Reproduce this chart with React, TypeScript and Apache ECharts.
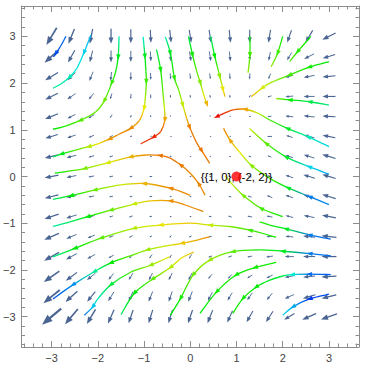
import React, { useEffect, useRef } from "react";
import * as echarts from "echarts";

const X_MAJOR = [-3, -2, -1, 0, 1, 2, 3];
const Y_MAJOR = [-3, -2, -1, 0, 1, 2, 3];
const MINOR = [-3.6, -3.4, -3.2, -2.8, -2.6, -2.4, -2.2, -1.8, -1.6, -1.4, -1.2, -0.8, -0.6, -0.4, -0.2, 0.2, 0.4, 0.6, 0.8, 1.2, 1.4, 1.6, 1.8, 2.2, 2.4, 2.6, 2.8, 3.2, 3.4, 3.6];

const GRID_X = [-3, -2.571, -2.143, -1.714, -1.286, -0.857, -0.429, 0, 0.429, 0.857, 1.286, 1.714, 2.143, 2.571, 3];
const GRID_Y = [3, 2.571, 2.143, 1.714, 1.286, 0.857, 0.429, 0, -0.429, -0.857, -1.286, -1.714, -2.143, -2.571, -3];

// arrow direction (degrees) per grid row (top to bottom)
const ARROW_ANGLE = [
  [-121, -112, -101, -90, -90, -87, -84, -81, -81, -84, -90, -99, -109, -121, -153],
  [-138, -119, -104, -90, -90, -87, -84, -81, -81, -84, -90, -101, -121, -153, -163],
  [-149, -135, -112, -96, -90, -87, -84, -81, -81, -87, -96, -112, -163, -169, -174],
  [-153, -145, -129, -107, -96, -90, -87, -84, -84, -90, -121, -163, -174, 180, 180],
  [-158, -153, -149, -125, -107, -90, -90, -90, -90, -163, -169, -174, 174, 174, 177],
  [-163, -161, -158, -153, -163, -169, 180, 180, 180, 174, 180, 180, 163, 166, 169],
  [-167, -166, -166, -163, -174, 180, 180, 174, 169, 163, 163, 158, 161, 163, 163],
  [-169, -169, -169, -169, -174, 180, 180, 174, 169, 163, 161, 158, 161, 163, 163],
  [-166, -169, -169, -169, -169, -174, 180, 177, 174, 163, 161, 158, 161, 163, 163],
  [-161, -163, -163, -163, -161, -169, -174, 180, 169, 163, 169, 169, 166, 169, 169],
  [-156, -158, -158, -163, -153, -149, -129, -153, 180, 180, 180, 180, 174, 174, 174],
  [-151, -151, -151, -153, -129, -125, -121, -121, -163, -163, -169, -171, 180, 180, 180],
  [-145, -143, -141, -129, -121, -117, -117, -117, -129, -132, -149, -153, -169, -174, -177],
  [-141, -138, -129, -121, -114, -112, -109, -112, -117, -121, -125, -129, -156, -163, -166],
  [-140, -130, -121, -114, -109, -107, -107, -109, -112, -114, -119, -123, -149, -156, -161],
];

// arrow magnitude per grid row (top to bottom)
const ARROW_MAG = [
  [20, 16, 15, 15, 14, 13, 13, 13, 13, 13, 13, 13, 13, 14, 15],
  [19, 14, 12, 12, 11, 10, 10, 10, 10, 10, 9, 9, 9, 11, 13],
  [15, 11, 10, 9, 8, 7, 6, 6, 6, 6, 6, 6, 8, 11, 13],
  [14, 10, 8, 6, 5, 4, 3, 3, 3, 3, 3, 4, 8, 11, 13],
  [14, 9, 7, 4, 3, 2, 1.5, 1.5, 1.5, 1.5, 2, 4, 8, 11, 13],
  [13, 9, 6, 4, 2, 1.5, 1, 1, 1, 1.5, 2, 5, 7, 11, 13],
  [14, 10, 6, 4, 3, 2, 2, 1.5, 1.5, 2, 3, 4, 8, 11, 14],
  [14, 10, 6, 4, 3, 3, 2, 2, 2, 3, 4, 5, 8, 12, 14],
  [14, 10, 6, 4, 3, 3, 2, 2, 2, 3, 4, 6, 8, 11, 14],
  [15, 11, 7, 4, 4, 3, 2, 2, 3, 4, 5, 6, 8, 11, 14],
  [16, 11, 8, 5, 4, 3, 3, 3, 3, 4, 5, 6, 8, 12, 15],
  [17, 12, 9, 6, 5, 5, 4, 5, 4, 4, 5, 7, 9, 12, 15],
  [19, 14, 11, 8, 8, 8, 8, 8, 6, 6, 6, 7, 9, 12, 15],
  [21, 16, 13, 11, 11, 11, 11, 11, 10, 9, 9, 9, 10, 13, 15],
  [25, 20, 17, 15, 14, 14, 14, 14, 14, 13, 13, 13, 12, 15, 17],
];

// streamlines: [x, y, speed (0 slow .. 1 fast), arrowhead here]
const STREAM_01 = [[-2.69, 3.0, 0.92, 0], [-2.8, 2.8, 0.93, 0], [-2.91, 2.63, 0.95, 1], [-2.96, 2.56, 0.96, 0]];
const STREAM_02 = [[-2.15, 3.03, 0.83, 0], [-2.3, 2.65, 0.8, 1], [-2.45, 2.32, 0.76, 0], [-2.62, 2.12, 0.72, 1], [-2.8, 1.98, 0.7, 0], [-2.97, 1.89, 0.68, 0]];
const STREAM_03 = [[-1.54, 3.0, 0.72, 0], [-1.56, 2.55, 0.55, 1], [-1.62, 2.22, 0.5, 0], [-1.7, 2.0, 0.46, 1], [-1.86, 1.62, 0.4, 1], [-2.05, 1.38, 0.4, 0], [-2.38, 1.2, 0.43, 1], [-2.7, 1.08, 0.48, 0], [-2.97, 1.01, 0.53, 0]];
const STREAM_04 = [[-1.02, 2.99, 0.75, 0], [-0.98, 2.57, 0.55, 1], [-0.96, 2.25, 0.5, 0], [-0.95, 2.03, 0.45, 1], [-0.97, 1.72, 0.35, 0], [-1.0, 1.46, 0.26, 1], [-1.1, 1.2, 0.18, 0], [-1.29, 1.03, 0.15, 1], [-1.55, 0.9, 0.15, 0], [-1.75, 0.8, 0.17, 1], [-2.0, 0.7, 0.25, 0], [-2.2, 0.64, 0.32, 1], [-2.5, 0.56, 0.44, 0], [-2.79, 0.48, 0.55, 1], [-2.97, 0.42, 0.62, 0]];
const STREAM_05 = [[-0.73, 2.72, 0.6, 0], [-0.64, 2.28, 0.5, 1], [-0.59, 1.78, 0.4, 0], [-0.56, 1.46, 0.3, 0], [-0.55, 1.21, 0.18, 1], [-0.64, 0.96, 0.08, 0], [-0.8, 0.84, 0.04, 1], [-1.07, 0.7, 0.06, 0]];
const STREAM_06 = [[-0.54, 2.99, 0.72, 0], [-0.43, 2.64, 0.55, 1], [-0.34, 2.1, 0.47, 1], [-0.25, 1.85, 0.4, 0], [-0.16, 1.53, 0.3, 1], [-0.08, 1.25, 0.2, 0], [-0.01, 1.05, 0.14, 1], [0.14, 0.72, 0.13, 0], [0.25, 0.55, 0.13, 1], [0.42, 0.28, 0.14, 0]];
const STREAM_07 = [[-0.04, 3.0, 0.6, 0], [0.05, 2.6, 0.5, 1], [0.14, 2.25, 0.42, 0], [0.22, 2.0, 0.37, 1], [0.3, 1.72, 0.26, 0], [0.36, 1.55, 0.2, 1]];
const STREAM_08 = [[0.44, 3.0, 0.62, 0], [0.53, 2.57, 0.52, 1], [0.64, 2.14, 0.36, 1], [0.71, 1.86, 0.25, 1], [0.75, 1.71, 0.2, 0]];
const STREAM_09 = [[1.29, 3.0, 0.52, 0], [1.29, 2.6, 0.45, 1], [1.25, 2.22, 0.35, 0]];
const STREAM_10 = [[2.0, 3.0, 0.5, 0], [1.89, 2.64, 0.45, 1], [1.75, 2.35, 0.35, 0]];
const STREAM_11 = [[2.61, 3.0, 0.52, 0], [2.32, 2.67, 0.47, 1], [2.15, 2.46, 0.42, 0]];
const STREAM_12 = [[3.0, 2.46, 0.52, 0], [2.57, 2.34, 0.5, 1], [2.14, 2.17, 0.45, 1], [1.72, 2.0, 0.33, 0], [1.55, 1.89, 0.28, 1], [1.32, 1.71, 0.2, 0]];
const STREAM_13 = [[3.0, 1.53, 0.65, 0], [2.58, 1.6, 0.6, 1], [2.15, 1.64, 0.52, 1], [1.86, 1.67, 0.36, 0]];
const STREAM_14 = [[3.0, 0.64, 0.8, 0], [2.55, 0.85, 0.72, 1], [2.1, 1.03, 0.55, 1], [1.72, 1.21, 0.45, 0], [1.45, 1.36, 0.3, 0], [1.18, 1.44, 0.18, 1], [0.95, 1.43, 0.1, 0], [0.75, 1.36, 0.05, 0], [0.57, 1.28, 0.02, 1]];
const STREAM_15 = [[3.0, 0.05, 0.85, 0], [2.57, 0.21, 0.8, 1], [2.07, 0.42, 0.55, 1], [1.64, 0.71, 0.42, 1], [1.28, 1.03, 0.3, 0]];
const STREAM_16 = [[3.0, -0.6, 0.88, 0], [2.58, -0.43, 0.9, 1], [2.11, -0.24, 0.55, 1], [1.72, -0.04, 0.45, 0], [1.32, 0.24, 0.36, 1], [1.07, 0.52, 0.26, 0], [0.86, 0.78, 0.18, 1], [0.72, 1.03, 0.15, 0]];
const STREAM_17 = [[0.32, -0.4, 0.15, 0], [0.18, -0.15, 0.15, 1], [0.0, 0.07, 0.15, 0], [-0.21, 0.25, 0.14, 1], [-0.45, 0.4, 0.12, 0], [-0.66, 0.45, 0.13, 1], [-0.95, 0.46, 0.16, 0], [-1.29, 0.42, 0.2, 1], [-1.79, 0.29, 0.28, 1], [-2.29, 0.17, 0.38, 1], [-2.6, 0.12, 0.46, 0], [-2.93, 0.07, 0.52, 0]];
const STREAM_18 = [[0.0, -0.4, 0.15, 0], [-0.43, -0.25, 0.15, 1], [-1.0, -0.15, 0.2, 1], [-1.5, -0.18, 0.3, 0], [-2.07, -0.29, 0.4, 1], [-2.58, -0.41, 0.52, 1], [-2.97, -0.49, 0.62, 0]];
const STREAM_19 = [[0.28, -0.75, 0.15, 0], [-0.11, -0.61, 0.15, 0], [-0.43, -0.52, 0.16, 1], [-0.86, -0.52, 0.22, 0], [-1.22, -0.59, 0.3, 1], [-1.72, -0.72, 0.4, 1], [-2.22, -0.86, 0.52, 1], [-2.6, -0.97, 0.62, 0], [-2.97, -1.07, 0.7, 0]];
const STREAM_20 = [[2.0, -0.86, 0.5, 0], [1.53, -0.68, 0.45, 1], [1.14, -0.4, 0.38, 1], [0.92, -0.18, 0.32, 0], [0.75, 0.02, 0.28, 0]];
const STREAM_21 = [[1.86, -1.3, 0.5, 0], [1.29, -1.15, 0.45, 1], [0.86, -1.07, 0.38, 0], [0.43, -1.04, 0.3, 1], [0.0, -1.0, 0.22, 0], [-0.64, -1.04, 0.25, 1], [-1.22, -1.11, 0.32, 1], [-1.93, -1.32, 0.42, 1], [-2.5, -1.54, 0.52, 1], [-2.97, -1.72, 0.68, 0]];
const STREAM_22 = [[0.42, -1.29, 0.15, 0], [0.15, -1.36, 0.18, 0], [-0.18, -1.43, 0.22, 1], [-0.6, -1.5, 0.3, 0], [-0.93, -1.57, 0.35, 1], [-1.3, -1.7, 0.42, 0], [-1.72, -1.85, 0.52, 1], [-2.08, -2.04, 0.68, 1], [-2.54, -2.32, 0.88, 1], [-2.97, -2.62, 0.95, 0]];
const STREAM_23 = [[-0.45, -1.72, 0.25, 0], [-0.86, -1.9, 0.35, 1], [-1.29, -2.05, 0.45, 0], [-1.72, -2.32, 0.58, 1], [-2.0, -2.62, 0.72, 0], [-2.11, -2.79, 0.82, 1], [-2.29, -2.97, 0.92, 0]];
const STREAM_24 = [[0.07, -1.62, 0.2, 0], [-0.2, -1.75, 0.25, 0], [-0.43, -1.95, 0.32, 1], [-0.82, -2.2, 0.42, 1], [-1.21, -2.5, 0.52, 1], [-1.5, -2.96, 0.62, 0]];
const STREAM_25 = [[1.86, -1.84, 0.5, 0], [1.4, -1.95, 0.5, 1], [0.99, -2.11, 0.5, 1], [0.57, -2.47, 0.5, 1], [0.21, -2.93, 0.52, 0]];
const STREAM_26 = [[3.04, -1.7, 0.92, 0], [2.58, -1.65, 0.9, 1], [2.0, -1.6, 0.55, 1], [1.5, -1.57, 0.5, 0], [0.92, -1.61, 0.42, 1], [0.42, -1.79, 0.35, 1], [0.06, -2.11, 0.4, 1], [-0.21, -2.61, 0.5, 1], [-0.43, -2.97, 0.52, 0]];
const STREAM_27 = [[3.04, -2.1, 0.93, 0], [2.57, -2.09, 0.92, 1], [2.2, -2.1, 0.75, 1], [2.0, -2.13, 0.6, 0], [1.72, -2.22, 0.55, 0], [1.42, -2.37, 0.52, 1], [1.14, -2.61, 0.5, 1], [0.92, -2.93, 0.5, 0]];
const STREAM_28 = [[3.0, -2.52, 0.95, 0], [2.58, -2.62, 0.97, 1], [2.22, -2.79, 0.85, 1], [2.0, -2.97, 0.8, 0]];
const STREAM_29 = [[3.04, -1.34, 0.92, 0], [2.58, -1.25, 0.9, 1], [2.07, -1.12, 0.55, 1], [1.72, -1.04, 0.5, 0], [1.5, -0.97, 0.47, 0]];

const STREAMS = [
  STREAM_01, STREAM_02, STREAM_03, STREAM_04, STREAM_05, STREAM_06, STREAM_07, STREAM_08, STREAM_09, STREAM_10,
  STREAM_11, STREAM_12, STREAM_13, STREAM_14, STREAM_15, STREAM_16, STREAM_17, STREAM_18, STREAM_19, STREAM_20,
  STREAM_21, STREAM_22, STREAM_23, STREAM_24, STREAM_25, STREAM_26, STREAM_27, STREAM_28, STREAM_29,
];

const MARK_POINT = [1, 0];
const MARK_TEXT = "{{1, 0}, {-2, 2}}";

const ARROW_COLOR = "#4a6593";
const FRAME_COLOR = "#8c8c8c";

function speedColor(s: number) {
  const h = Math.max(0, Math.min(1, s)) * 232;
  return `hsl(${h.toFixed(0)}, 100%, 46%)`;
}

function renderArrow(params: any, api: any) {
  const c = api.coord([api.value(0), api.value(1)]);
  const a = (api.value(2) * Math.PI) / 180;
  const L = api.value(3);
  const ux = Math.cos(a);
  const uy = -Math.sin(a);
  const tail = [c[0] - (ux * L) / 2, c[1] - (uy * L) / 2];
  const tip = [c[0] + (ux * L) / 2, c[1] + (uy * L) / 2];
  const hl = Math.max(1.6, L * 0.42);
  const hw = Math.max(1.4, L * 0.32);
  const base = [tip[0] - ux * hl, tip[1] - uy * hl];
  const nx = -uy;
  const ny = ux;
  const children: any[] = [];
  if (L > hl) {
    children.push({
      type: "line",
      shape: { x1: tail[0], y1: tail[1], x2: base[0] + ux * 0.8, y2: base[1] + uy * 0.8 },
      style: { stroke: ARROW_COLOR, lineWidth: Math.max(0.9, L * 0.085) },
    });
  }
  children.push({
    type: "polygon",
    shape: {
      points: [
        tip,
        [base[0] + (nx * hw) / 2, base[1] + (ny * hw) / 2],
        [base[0] - (nx * hw) / 2, base[1] - (ny * hw) / 2],
      ],
    },
    style: { fill: ARROW_COLOR },
  });
  return { type: "group", children };
}

function renderStream(params: any, api: any) {
  const pts = STREAMS[api.value(0)];
  const P = pts.map((p) => api.coord([p[0], p[1]]));
  const n = P.length;
  const children: any[] = [];
  for (let i = 0; i < n - 1; i++) {
    const p0 = P[Math.max(0, i - 1)];
    const p1 = P[i];
    const p2 = P[i + 1];
    const p3 = P[Math.min(n - 1, i + 2)];
    const cp1 = [p1[0] + (p2[0] - p0[0]) / 6, p1[1] + (p2[1] - p0[1]) / 6];
    const cp2 = [p2[0] - (p3[0] - p1[0]) / 6, p2[1] - (p3[1] - p1[1]) / 6];
    children.push({
      type: "bezierCurve",
      shape: { x1: p1[0], y1: p1[1], x2: p2[0], y2: p2[1], cpx1: cp1[0], cpy1: cp1[1], cpx2: cp2[0], cpy2: cp2[1] },
      style: {
        fill: "none",
        lineWidth: 1.3,
        stroke: new echarts.graphic.LinearGradient(
          p1[0], p1[1], p2[0], p2[1],
          [
            { offset: 0, color: speedColor(pts[i][2]) },
            { offset: 1, color: speedColor(pts[i + 1][2]) },
          ],
          true
        ),
      },
    });
  }
  for (let i = 0; i < n; i++) {
    if (!pts[i][3]) continue;
    const a = P[Math.max(0, i - 1)];
    const b = P[Math.min(n - 1, i + 1)];
    let dx = b[0] - a[0];
    let dy = b[1] - a[1];
    const d = Math.hypot(dx, dy) || 1;
    dx /= d;
    dy /= d;
    const tip = [P[i][0] + dx * 3, P[i][1] + dy * 3];
    const base = [P[i][0] - dx * 3, P[i][1] - dy * 3];
    const w = 2.2;
    children.push({
      type: "polygon",
      shape: { points: [tip, [base[0] - dy * w, base[1] + dx * w], [base[0] + dy * w, base[1] - dx * w]] },
      style: { fill: speedColor(pts[i][2]) },
    });
  }
  return { type: "group", children };
}

function renderLabel(params: any, api: any) {
  const c = api.coord([api.value(0), api.value(1)]);
  return {
    type: "text",
    style: {
      x: c[0],
      y: c[1],
      text: MARK_TEXT,
      align: "center",
      verticalAlign: "middle",
      font: '11.5px "Liberation Sans", Arial, sans-serif',
      fill: "#000",
    },
  };
}

const fmt = (v: number) => String(v).replace("-", "\u2212");

function xAxisDef(position: string, major: boolean) {
  return {
    type: "value",
    position,
    min: -3.65,
    max: 3.65,
    axisLine: { show: major, onZero: false, lineStyle: { color: FRAME_COLOR, width: 1 } },
    axisTick: {
      show: true,
      inside: true,
      length: major ? 6 : 3.5,
      customValues: major ? X_MAJOR : MINOR,
      lineStyle: { color: FRAME_COLOR, width: 1 },
    },
    axisLabel: {
      show: major && position === "bottom",
      customValues: X_MAJOR,
      formatter: fmt,
      color: "#444",
      fontSize: 11,
      fontFamily: '"Liberation Sans", Arial, sans-serif',
      margin: 5,
    },
    splitLine: { show: false },
  };
}

function yAxisDef(position: string, major: boolean) {
  return {
    type: "value",
    position,
    min: -3.65,
    max: 3.65,
    axisLine: { show: major, onZero: false, lineStyle: { color: FRAME_COLOR, width: 1 } },
    axisTick: {
      show: true,
      inside: true,
      length: major ? 6 : 3.5,
      customValues: major ? Y_MAJOR : MINOR,
      lineStyle: { color: FRAME_COLOR, width: 1 },
    },
    axisLabel: {
      show: major && position === "left",
      customValues: Y_MAJOR,
      formatter: fmt,
      color: "#444",
      fontSize: 11,
      fontFamily: '"Liberation Sans", Arial, sans-serif',
      margin: 6,
    },
    splitLine: { show: false },
  };
}

export default function App() {
  const ref = useRef<HTMLDivElement>(null);
  useEffect(() => {
    if (!ref.current) return;
    const chart = echarts.init(ref.current, undefined, { renderer: "svg" });
    const arrowData: number[][] = [];
    GRID_Y.forEach((y, j) => {
      GRID_X.forEach((x, i) => {
        arrowData.push([x, y, ARROW_ANGLE[j][i], ARROW_MAG[j][i]]);
      });
    });
    chart.setOption({
      animation: false,
      backgroundColor: "#ffffff",
      grid: { left: 20, right: 7, top: 6, bottom: 22, containLabel: false },
      xAxis: [xAxisDef("bottom", true), xAxisDef("bottom", false), xAxisDef("top", true), xAxisDef("top", false)],
      yAxis: [yAxisDef("left", true), yAxisDef("left", false), yAxisDef("right", true), yAxisDef("right", false)],
      series: [
        {
          type: "custom",
          xAxisIndex: 0,
          yAxisIndex: 0,
          renderItem: renderArrow,
          data: arrowData,
          z: 2,
          silent: true,
        },
        {
          type: "custom",
          xAxisIndex: 0,
          yAxisIndex: 0,
          renderItem: renderStream,
          data: STREAMS.map((_, i) => [i]),
          z: 3,
          silent: true,
        },
        {
          type: "custom",
          xAxisIndex: 0,
          yAxisIndex: 0,
          renderItem: renderLabel,
          data: [MARK_POINT],
          z: 4,
          silent: true,
        },
        {
          type: "scatter",
          xAxisIndex: 0,
          yAxisIndex: 0,
          data: [MARK_POINT],
          symbolSize: 10,
          itemStyle: { color: "#ff0000" },
          z: 5,
          silent: true,
        },
      ],
    });
    return () => chart.dispose();
  }, []);
  return (
    <div
      ref={ref}
      style={{ position: "fixed", left: 0, top: 0, width: 366, height: 369, background: "#fff" }}
    />
  );
}
